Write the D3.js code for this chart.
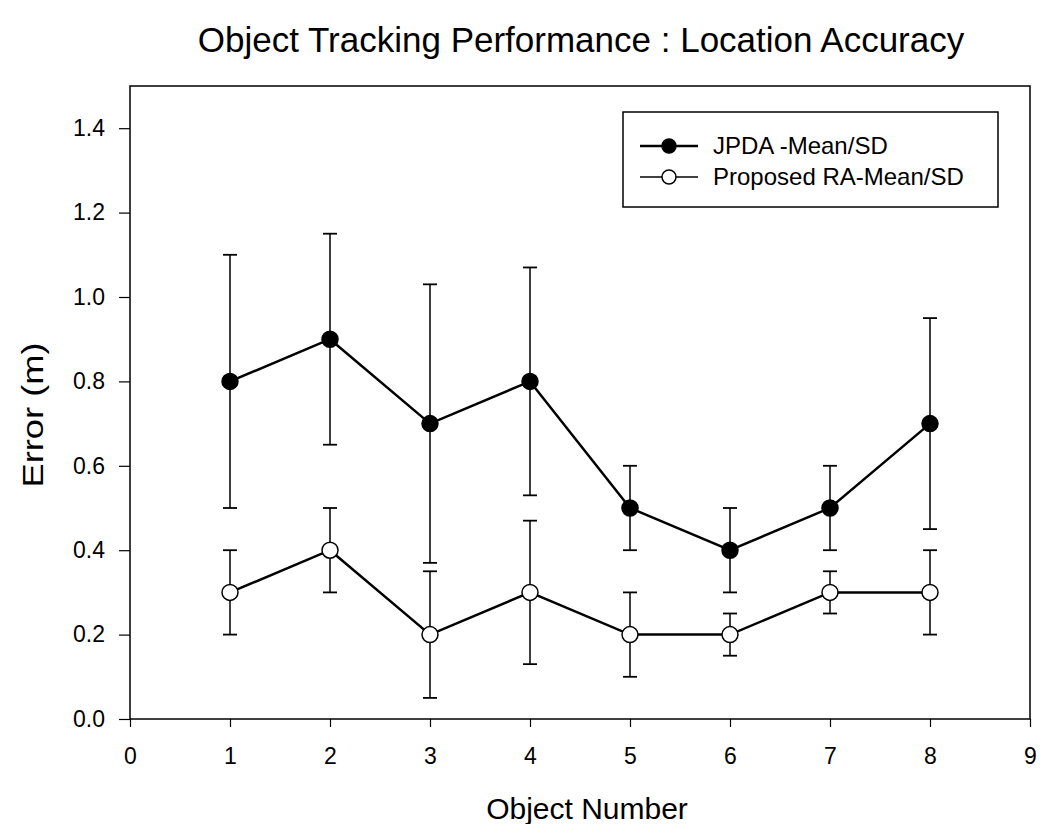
<!DOCTYPE html>
<html>
<head>
<meta charset="utf-8">
<script src="https://cdn.jsdelivr.net/npm/d3@7"></script>
<style>
  body { margin: 0; background: #fff; }
  text { font-family: "Liberation Sans", Arial, sans-serif; fill: #000; }
</style>
</head>
<body>
<div id="chart"></div>
<script>
// chart data
const objects = [1, 2, 3, 4, 5, 6, 7, 8];
const jpdaMean = [0.8, 0.9, 0.7, 0.8, 0.5, 0.4, 0.5, 0.7];
const jpdaSD = [0.3, 0.25, 0.33, 0.27, 0.1, 0.1, 0.1, 0.25];
const raMean = [0.3, 0.4, 0.2, 0.3, 0.2, 0.2, 0.3, 0.3];
const raSD = [0.1, 0.1, 0.15, 0.17, 0.1, 0.05, 0.05, 0.1];
const xTicks = [0, 1, 2, 3, 4, 5, 6, 7, 8, 9];
const yTicks = [0, 0.2, 0.4, 0.6, 0.8, 1.0, 1.2, 1.4];

const width = 1040, height = 824;
const margin = {top: 86, right: 10, bottom: 105, left: 130};
const plotW = width - margin.left - margin.right;
const plotH = height - margin.top - margin.bottom;

const MARKER_R = 8;
const CAP = 7;

let svg = d3.select("#chart")
    .append("svg")
    .attr("width", width)
    .attr("height", height);

let g = svg.append("g")
    .attr("transform", `translate(${margin.left}, ${margin.top})`);

let x = d3.scaleLinear().domain([0, 9]).range([0, plotW]);
let y = d3.scaleLinear().domain([0, 1.5]).range([plotH, 0]);

// frame
g.append("rect")
    .attr("width", plotW)
    .attr("height", plotH)
    .attr("fill", "none")
    .attr("stroke", "#000")
    .attr("stroke-width", 1.5);

// axes
let xAxis = g.append("g")
    .attr("transform", `translate(0, ${plotH})`)
    .call(d3.axisBottom(x).tickValues(xTicks).tickFormat(d3.format("d")).tickSize(8).tickPadding(21));
let yAxis = g.append("g")
    .call(d3.axisLeft(y).tickValues(yTicks).tickFormat(d3.format(".1f")).tickSize(11).tickPadding(14));
[xAxis, yAxis].forEach(function(a) {
    a.select(".domain").remove();
    a.selectAll("line").attr("stroke", "#000").attr("stroke-width", 1.2);
    a.selectAll("text").style("font-size", "23px").style("font-family", "Liberation Sans, Arial, sans-serif");
});

function drawSeries(mean, sd, fill) {
    let data = objects.map(function(o, i) { return {x: o, m: mean[i], s: sd[i]}; });

    let bars = g.append("g");
    data.forEach(function(d) {
        bars.append("line")
            .attr("x1", x(d.x)).attr("x2", x(d.x))
            .attr("y1", y(d.m + d.s)).attr("y2", y(d.m - d.s))
            .attr("stroke", "#000").attr("stroke-width", 1.5);
        [d.m + d.s, d.m - d.s].forEach(function(v) {
            bars.append("line")
                .attr("x1", x(d.x) - CAP).attr("x2", x(d.x) + CAP)
                .attr("y1", y(v)).attr("y2", y(v))
                .attr("stroke", "#000").attr("stroke-width", 1.8);
        });
    });

    g.append("path")
        .datum(data)
        .attr("fill", "none")
        .attr("stroke", "#000")
        .attr("stroke-width", 2.5)
        .attr("d", d3.line().x(function(d) { return x(d.x); }).y(function(d) { return y(d.m); }));

    g.selectAll(null).data(data).enter()
        .append("circle")
        .attr("cx", function(d) { return x(d.x); })
        .attr("cy", function(d) { return y(d.m); })
        .attr("r", MARKER_R)
        .attr("fill", fill)
        .attr("stroke", "#000")
        .attr("stroke-width", 1.5);
}

drawSeries(raMean, raSD, "#fff");
drawSeries(jpdaMean, jpdaSD, "#000");

// legend
let legend = svg.append("g").attr("transform", "translate(623, 112)");
legend.append("rect")
    .attr("width", 375).attr("height", 95)
    .attr("fill", "#fff").attr("stroke", "#000").attr("stroke-width", 1.5);
let legendItems = [
    {label: "JPDA -Mean/SD", fill: "#000", w: 2.5},
    {label: "Proposed RA-Mean/SD", fill: "#fff", w: 1.5}
];
legendItems.forEach(function(it, i) {
    let row = legend.append("g").attr("transform", `translate(0, ${34 + i * 31})`);
    row.append("line").attr("x1", 17).attr("x2", 75).attr("y1", 0).attr("y2", 0)
        .attr("stroke", "#000").attr("stroke-width", it.w);
    row.append("circle").attr("cx", 46).attr("cy", 0).attr("r", 7)
        .attr("fill", it.fill).attr("stroke", "#000").attr("stroke-width", 1.5);
    row.append("text").attr("x", 90).attr("y", 8)
        .style("font-size", "24px").text(it.label);
});

// titles
svg.append("text")
    .attr("x", 581).attr("y", 52)
    .style("text-anchor", "middle")
    .style("font-size", "35px")
    .text("Object Tracking Performance : Location Accuracy");
svg.append("text")
    .attr("x", 587).attr("y", 819)
    .style("text-anchor", "middle")
    .style("font-size", "30px")
    .text("Object Number");
svg.append("text")
    .attr("transform", "translate(43, 415) rotate(-90)")
    .style("text-anchor", "middle")
    .style("font-size", "29px")
    .attr("textLength", 145)
    .attr("lengthAdjust", "spacingAndGlyphs")
    .text("Error (m)");
</script>
</body>
</html>
